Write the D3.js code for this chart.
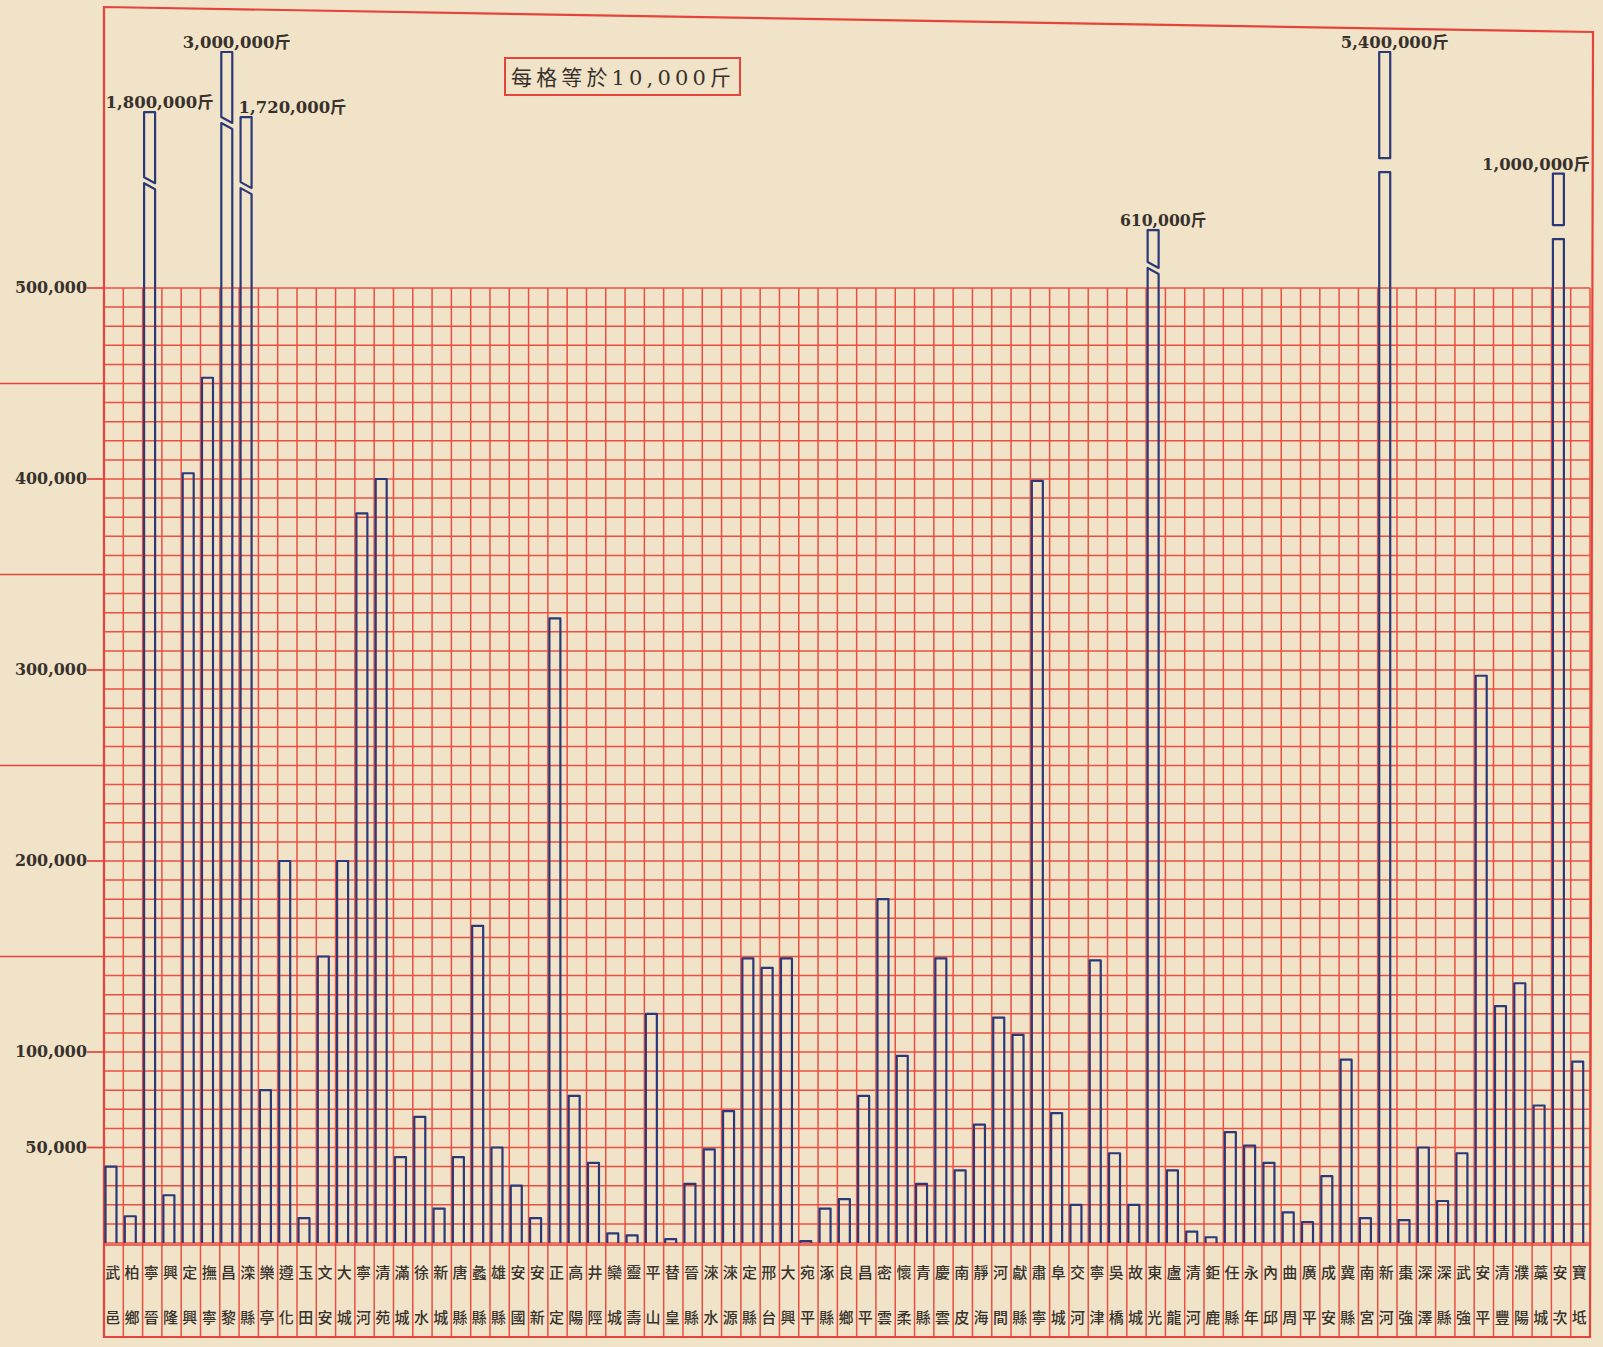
<!DOCTYPE html>
<html>
<head>
<meta charset="utf-8">
<script src="https://cdn.jsdelivr.net/npm/d3@7"></script>
<style>
  html, body { margin: 0; padding: 0; background: #f0e3c8; }
  svg { display: block; }
</style>
</head>
<body>
<svg id="chart" width="1603" height="1347"></svg>
<script>
// Counties (two characters each, written top-to-bottom in the label strip)
const counties = ["武邑","柏鄉","寧晉","興隆","定興","撫寧","昌黎","滦縣","樂亭","遵化","玉田","文安","大城","寧河","清苑","滿城","徐水","新城","唐縣","蠡縣","雄縣","安國","安新","正定","高陽","井陘","欒城","靈壽","平山","替皇","晉縣","淶水","淶源","定縣","邢台","大興","宛平","涿縣","良鄉","昌平","密雲","懷柔","青縣","慶雲","南皮","靜海","河間","獻縣","肅寧","阜城","交河","寧津","吳橋","故城","東光","盧龍","清河","鉅鹿","任縣","永年","內邱","曲周","廣平","成安","冀縣","南宮","新河","棗強","深澤","深縣","武強","安平","清豐","濮陽","藁城","安次","寶坻"];

// Output in 斤 for each county
const amounts = [40000,14000,1800000,25000,403000,453000,3000000,1720000,80000,200000,13000,150000,200000,382000,400000,45000,66000,18000,45000,166000,50000,30000,13000,327000,77000,42000,5000,4000,120000,2000,31000,49000,69000,149000,144000,149000,1000,18000,23000,77000,180000,98000,31000,149000,38000,62000,118000,109000,399000,68000,20000,148000,47000,20000,610000,38000,6000,3000,58000,51000,42000,16000,11000,35000,96000,13000,5400000,12000,50000,22000,47000,297000,124000,136000,72000,1000000,95000];

// Axis ticks
const tickValues = [500000, 400000, 300000, 200000, 100000, 50000];
const tickLabels = ["500,000", "400,000", "300,000", "200,000", "100,000", "50,000"];
const gridMax = 500000;
const cellValue = 10000;
const unitNote = "每格等於10,000斤";

// ---------------------------------------------------------------
const svg = d3.select("#chart");
const left = 104, right = 1590, base = 1243, bottom = 1337;
const RED = "#e6443a", GRID = "#ea4f42", BLUE = "#2b3979", INK = "#38312c";

const x = d3.scaleBand().domain(d3.range(counties.length)).range([left, right]).padding(0);
const y = d3.scaleLinear().domain([0, gridMax]).range([base, 288]);
const top500 = y(gridMax);
// compressed scale for the part of a bar that runs past the ruled area
const over = d3.scalePow().exponent(0.45).domain([0, 2500000]).range([0, 236]).clamp(true);

const bw = x.bandwidth();
const g = svg.append("g");

// ruled grid: one cell per county and per 10,000斤
const grid = g.append("g").attr("stroke", GRID).attr("stroke-width", 1.5);
grid.selectAll("line.h")
  .data(d3.range(0, gridMax + 1, cellValue))
  .join("line")
  .attr("x1", left).attr("x2", right)
  .attr("y1", d => y(d)).attr("y2", d => y(d));
grid.selectAll("line.v")
  .data(d3.range(counties.length + 1))
  .join("line")
  .attr("x1", i => left + i * bw).attr("x2", i => left + i * bw)
  .attr("y1", top500).attr("y2", bottom);

// label strip top rule
g.append("line").attr("x1", left).attr("x2", right)
  .attr("y1", base + 2).attr("y2", base + 2)
  .attr("stroke", RED).attr("stroke-width", 1.7);

// y axis labels and the 50,000 leader lines
const labelRight = 87;
const tickG = g.append("g");
d3.range(50000, gridMax + 1, 50000).forEach(v => {
  const labelled = tickValues.includes(v);
  tickG.append("line")
    .attr("x1", labelled ? labelRight : 0).attr("x2", left)
    .attr("y1", y(v)).attr("y2", y(v))
    .attr("stroke", RED).attr("stroke-width", 1.7);
});
tickG.selectAll("text")
  .data(tickValues)
  .join("text")
  .attr("x", labelRight).attr("y", d => y(d) + 5)
  .attr("text-anchor", "end")
  .attr("font-family", "DejaVu Serif")
  .attr("font-size", 16)
  .attr("font-weight", 600)
  .attr("fill", INK)
  .attr("textLength", (d, i) => tickLabels[i].length * 10.3)
  .attr("lengthAdjust", "spacingAndGlyphs")
  .text((d, i) => tickLabels[i]);

// outer frame (the top edge runs slightly askew on the sheet)
g.append("path")
  .attr("d", `M${left},${bottom} V7 L${right + 3},32 L${right},${bottom} Z`)
  .attr("fill", "none").attr("stroke", RED).attr("stroke-width", 2.2);

// unit note box
const note = g.append("g");
note.append("rect").attr("x", 505).attr("y", 58).attr("width", 235).attr("height", 37)
  .attr("fill", "none").attr("stroke", RED).attr("stroke-width", 2);
note.append("text")
  .attr("x", 511).attr("y", 85)
  .attr("font-family", "DejaVu Serif, 'Noto Sans CJK TC'")
  .attr("font-size", 21)
  .attr("fill", INK)
  .attr("textLength", 220).attr("lengthAdjust", "spacing")
  .text(unitNote);

// bars
const flatCut = new Set(["新河", "安次"]);
const barG = g.append("g").attr("fill", "none").attr("stroke", BLUE)
  .attr("stroke-width", 2.2).attr("stroke-linejoin", "round");
const fmt = d3.format(",");
const labelG = g.append("g");

amounts.forEach((v, i) => {
  const x0 = x(i) + 1.5, x1 = x0 + 11;
  if (v <= gridMax) {
    barG.append("path").attr("d", `M${x0},${base} V${y(v)} H${x1} V${base}`);
    return;
  }
  const rise = over(v - gridMax);
  const topY = top500 - rise;
  if (flatCut.has(counties[i])) {
    const bk = topY + rise * 0.45, gap = 14;
    barG.append("path").attr("d", `M${x0},${topY} H${x1} V${bk} H${x0} Z`);
    barG.append("path").attr("d", `M${x0},${base} V${bk + gap} H${x1} V${base}`);
  } else {
    const bk = topY + Math.min(65, rise * 0.55), slant = 6, gap = 6;
    barG.append("path").attr("d", `M${x0},${topY} H${x1} V${bk + slant} L${x0},${bk} Z`);
    barG.append("path").attr("d", `M${x0},${base} V${bk + gap} L${x1},${bk + gap + slant} V${base}`);
  }
  // value note above the broken bar
  const prevBroken = i > 0 && amounts[i - 1] > gridMax;
  let anchor = "middle", tx = (x0 + x1) / 2 + 10;
  if (prevBroken) { anchor = "start"; tx = x0 - 2; }
  if (tx + 56 > right) { anchor = "end"; tx = right; }
  const label = fmt(v) + "斤";
  labelG.append("text")
    .attr("x", tx).attr("y", topY - 4)
    .attr("text-anchor", anchor)
    .attr("font-family", "DejaVu Serif, 'Noto Sans CJK TC'")
    .attr("font-size", 16)
    .attr("font-weight", 600)
    .attr("fill", INK)
    .attr("textLength", label.length * 10.8)
    .attr("lengthAdjust", "spacingAndGlyphs")
    .text(label);
});

// county names, one character per row
const nameG = g.append("g")
  .attr("font-family", "'Noto Sans CJK TC'")
  .attr("font-size", 15)
  .attr("font-weight", 500)
  .attr("fill", INK)
  .attr("text-anchor", "middle");
counties.forEach((name, i) => {
  const cx = x(i) + bw / 2 - 1;
  nameG.append("text").attr("x", cx).attr("y", 1278).text(name[0]);
  nameG.append("text").attr("x", cx).attr("y", 1323).text(name[1]);
});
</script>
</body>
</html>
